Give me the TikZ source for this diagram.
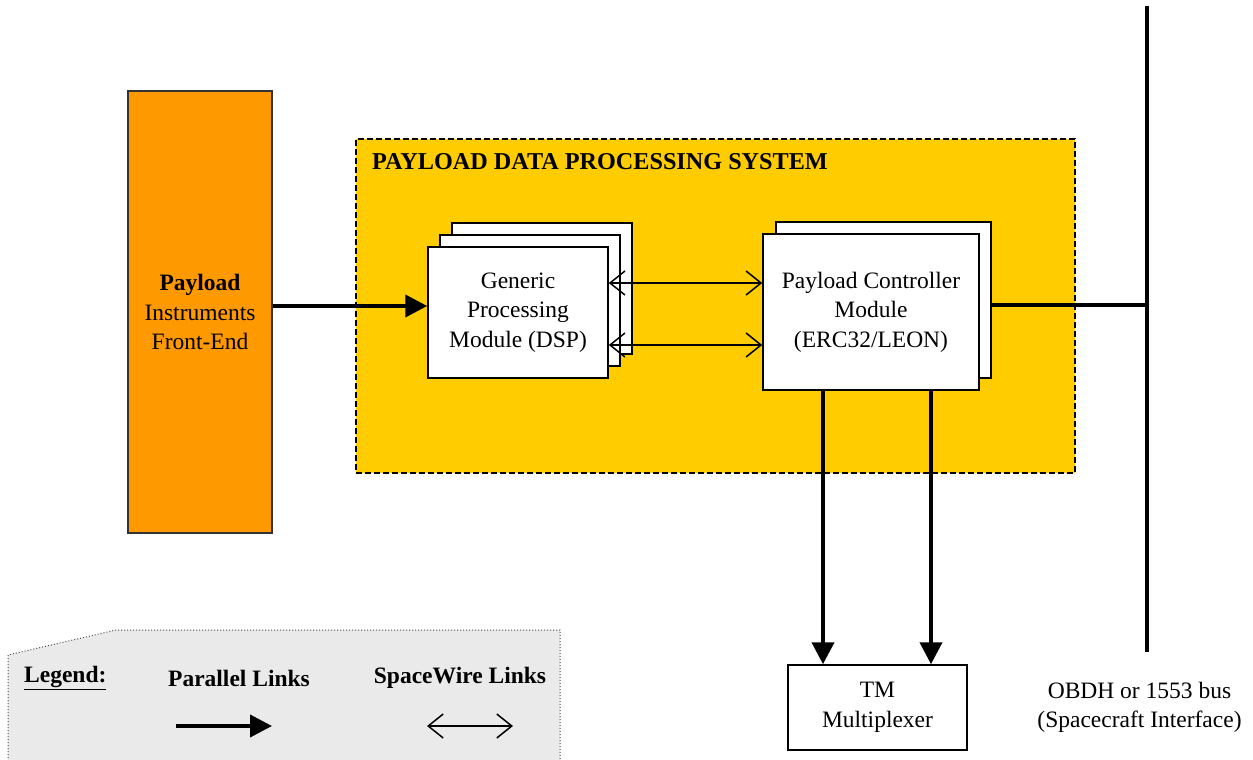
\documentclass[tikz,border=0pt]{standalone}
\usepackage{fontspec}
\setmainfont{Liberation Serif}
\usetikzlibrary{arrows.meta,calc}
\definecolor{orng}{HTML}{FF9900}
\definecolor{ylw}{HTML}{FFCC00}
\definecolor{lgray}{HTML}{EAEAEA}
\begin{document}
\begin{tikzpicture}[x=1pt,y=-1pt,
  txt/.style={font=\fontsize{23.5}{29.5}\selectfont, align=center},
  btxt/.style={font=\fontsize{23.5}{29.5}\selectfont\bfseries},
  boxw/.style={draw=black, line width=1.5pt, fill=white, inner sep=0pt},
  plink/.style={line width=4pt, -{Triangle[length=22pt,width=22pt]}},
  swlink/.style={line width=2pt, {Straight Barb[length=15pt,width=24pt,line width=1.5pt]}-{Straight Barb[length=15pt,width=24pt,line width=1.5pt]}},
  thickline/.style={line width=4pt}]
\useasboundingbox (0,0) rectangle (1253,760);
% legend
\path[fill=lgray, draw=black!70, dotted, line width=1pt] (8,770) -- (8,655) -- (116,630) -- (560,630) -- (560,770);
\node[btxt, anchor=west, inner sep=0pt] (lg) at (24,678) {\underline{Legend:}};
\node[btxt] (lp) at (239,678) {Parallel Links};
\node[btxt] (ls) at (460,678) {SpaceWire Links};
\coordinate (lpa) at (176,726); \coordinate (lpb) at (272,726);
\coordinate (lsa) at (427,726); \coordinate (lsb) at (513,726);
\draw[plink] (lpa) -- (lpb);
\draw[swlink] (lsa) -- (lsb);
% orange payload
\node[draw=black!80, line width=1.5pt, fill=orng, minimum width=144pt, minimum height=442pt, txt] (pl) at (200,312) {\textbf{Payload}\\Instruments\\Front-End};
% yellow system
\node[draw=black, dash pattern=on 6pt off 3pt, line width=1.5pt, fill=ylw, minimum width=719pt, minimum height=334pt, inner sep=0pt] (pdps) at (715.5,306) {};
\node[font=\fontsize{24.2}{29.5}\selectfont\bfseries, anchor=west, inner sep=0pt] (title) at (372,162) {PAYLOAD DATA PROCESSING SYSTEM};
% DSP stack
\node[boxw, minimum width=180pt, minimum height=131pt] (dspb) at (542,288.5) {};
\node[boxw, minimum width=180pt, minimum height=131pt] (dspm) at (530,300.5) {};
\node[boxw, minimum width=180pt, minimum height=131pt, txt] (dspf) at (518,312.5) {Generic\\Processing\\Module (DSP)};
% bus
\coordinate (bush) at (0,305);
\coordinate (bustop) at (1147,6);
\coordinate (busbot) at (1147,652);
\draw[thickline] (bustop) -- (busbot);
\draw[thickline] (983,305) -- (bustop |- bush);
% PCM stack
\node[boxw, minimum width=215pt, minimum height=156pt] (pcmb) at (883.5,300) {};
\node[boxw, minimum width=216pt, minimum height=156pt, txt] (pcmf) at (871,312) {Payload Controller\\Module\\(ERC32/LEON)};
% TM
\node[boxw, minimum width=179pt, minimum height=85pt, txt] (tm) at (877.5,707.5) {TM\\Multiplexer};
\node[txt] (bus) at (1139.5,707.5) {OBDH or 1553 bus\\(Spacecraft Interface)};
% connectors
\coordinate (pa) at (0,306);
\draw[plink] (pl.east |- pa) -- (dspf.west |- pa);
\coordinate (s1) at (0,283);
\coordinate (s2) at (0,345);
\draw[swlink] (dspf.east |- s1) -- (pcmf.west |- s1);
\draw[swlink] (dspf.east |- s2) -- (pcmf.west |- s2);
\coordinate (d1) at (823,0);
\coordinate (d2) at (931,0);
\draw[plink] (pcmf.south -| d1) -- (tm.north -| d1);
\draw[plink] (pcmf.south -| d2) -- (tm.north -| d2);
\end{tikzpicture}
\end{document}
